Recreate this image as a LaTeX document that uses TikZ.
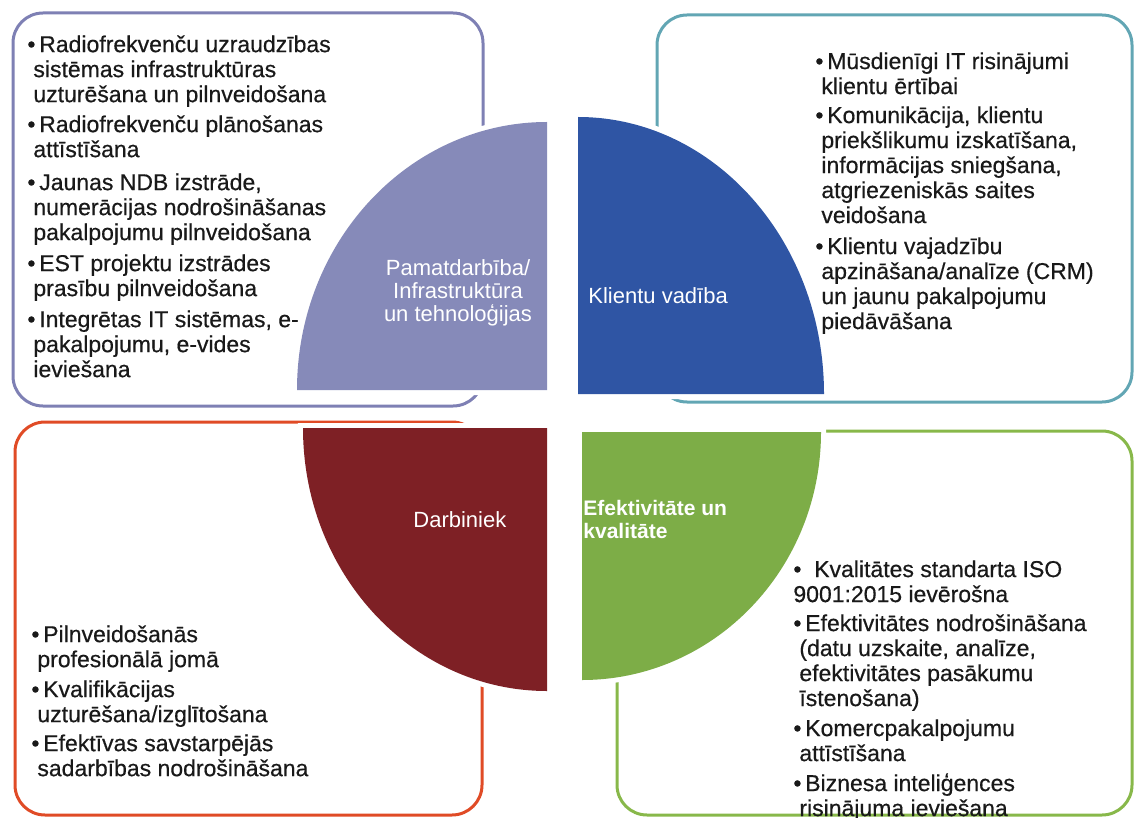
\documentclass[tikz,border=0pt]{standalone}
\usepackage{fontspec}
\setmainfont{Liberation Sans}
\newfontfamily\bodyfont{Liberation Sans}[FakeBold=0.5]
\definecolor{infraC}{HTML}{868AB9}
\definecolor{klientC}{HTML}{2F55A4}
\definecolor{darbC}{HTML}{7E2025}
\definecolor{efektC}{HTML}{7DAD47}
\definecolor{infraB}{HTML}{7E80B4}
\definecolor{klientB}{HTML}{62A6B4}
\definecolor{darbB}{HTML}{E04B26}
\definecolor{efektB}{HTML}{88B84A}
\newcommand{\bul}{\textbullet\,}
\newcommand{\lnind}{\hspace*{3pt}}
\begin{document}
\begin{tikzpicture}[x=0.5pt,y=-0.5pt,
  box/.style={rounded corners=15pt, line width=1.5pt},
  disc/.style={preaction={draw=white, line width=5pt}},
  lbl/.style={text=white, inner sep=0pt, font=\fontsize{11}{11.5}\selectfont},
  txt/.style={anchor=north west, inner sep=0pt, align=left, text=black!90, font=\bodyfont\fontsize{11.5}{12.5}\selectfont}]
\useasboundingbox (0,0) rectangle (1134,818);
% boxes
\draw[box, infraB] (13,13) rectangle (483,406);
\draw[box, klientB] (657,15) rectangle (1132,402);
\draw[box, darbB] (15,422) rectangle (482,815);
\draw[box, efektB] (617,431) rectangle (1132,815);
% quarter discs
\fill[disc, infraC] (547,390) -- (297,390) arc[start angle=180, end angle=270, x radius=250, y radius=268] -- cycle;
\fill[disc, klientC] (578,394) -- (578,117) arc[start angle=270, end angle=360, x radius=246, y radius=277] -- cycle;
\fill[disc, darbC] (547,428) -- (303,428) arc[start angle=180, end angle=90, x radius=244, y radius=263] -- cycle;
\fill[disc, efektC] (582,432) -- (821,432) arc[start angle=0, end angle=90, x radius=239, y radius=248] -- cycle;
% labels
\node[lbl, align=center] (lblInfra) at (458,293){Pamatdarbība/\\Infrastruktūra\\un tehnoloģijas};
\node[lbl, anchor=west] (lblKlienti) at (588,296){Klientu vadība};
\node[lbl, anchor=west] (lblDarb) at (413,520){Darbiniek};
\node[lbl, anchor=west, align=left, font=\bfseries\fontsize{10.5}{11.5}\selectfont] (lblEfekt) at (583,519){Efektivitāte un\\kvalitāte};
% texts
\node[txt] (txtInfra) at (27,35){\bul Radiofrekvenču uzraudzības\\
\lnind sistēmas infrastruktūras\\
\lnind uzturēšana un pilnveidošana\\[2.5pt]
\bul Radiofrekvenču plānošanas\\
\lnind attīstīšana\\[4pt]
\bul Jaunas NDB izstrāde,\\
\lnind numerācijas nodrošināšanas\\
\lnind pakalpojumu pilnveidošana\\[3pt]
\bul EST projektu izstrādes\\
\lnind prasību pilnveidošana\\[3pt]
\bul Integrētas IT sistēmas, e-\\
\lnind pakalpojumu, e-vides\\
\lnind ieviešana};
\node[txt] (txtKlienti) at (815,52){\bul Mūsdienīgi IT risinājumi\\
\lnind klientu ērtībai\\[2pt]
\bul Komunikācija, klientu\\
\lnind priekšlikumu izskatīšana,\\
\lnind informācijas sniegšana,\\
\lnind atgriezeniskās saites\\
\lnind veidošana\\[3pt]
\bul Klientu vajadzību\\
\lnind apzināšana/analīze (CRM)\\
\lnind un jaunu pakalpojumu\\
\lnind piedāvāšana};
\node[txt] (txtDarb) at (31,625){\bul Pilnveidošanās\\
\lnind profesionālā jomā\\[2.5pt]
\bul Kvalifikācijas\\
\lnind uzturēšana/izglītošana\\[2pt]
\bul Efektīvas savstarpējās\\
\lnind sadarbības nodrošināšana};
\node[txt] (txtEfekt) at (793,560){\textbullet\ \ Kvalitātes standarta ISO\\
9001:2015 ievērošna\\[2pt]
\bul Efektivitātes nodrošināšana\\
\lnind (datu uzskaite, analīze,\\
\lnind efektivitātes pasākumu\\
\lnind īstenošana)\\[2.5pt]
\bul Komercpakalpojumu\\
\lnind attīstīšana\\[2.5pt]
\bul Biznesa inteliģences\\
\lnind risinājuma ieviešana};
\end{tikzpicture}
\end{document}
